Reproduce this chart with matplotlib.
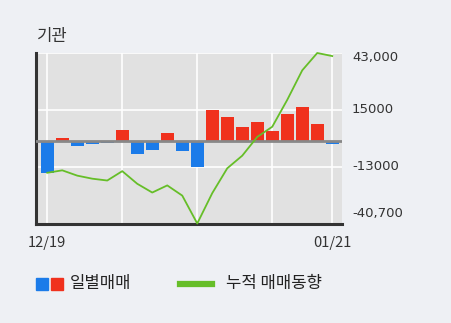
import numpy as np
import matplotlib
matplotlib.use("Agg")
import matplotlib.pyplot as plt
from matplotlib.patches import Rectangle
from matplotlib.lines import Line2D

plt.rcParams['font.family'] = ['Noto Sans CJK KR', 'DejaVu Sans']

# ---- data ----
dates = ["12/19", "", "", "", "", "", "", "", "", "", "", "", "", "", "", "", "", "", "", "01/21"]
daily = [-15800, 1300, -2500, -1500, -1000, 5200, -6400, -4500, 3700, -5000,
         -12800, 15200, 11800, 6800, 9300, 4700, 13200, 16700, 8200, -1500]
cumulative = [-15800, -14600, -17200, -18700, -19600, -15000, -21200, -25500, -22000, -27000,
              -40700, -25800, -13600, -7400, 1800, 6800, 20000, 34500, 43000, 41500]
y_ticks = [43000, 15100, -12800, -40700]
y_tick_labels = ["43,000", "15000", "-13000", "-40,700"]
title = "기관"
legend_bar = "일별매매"
legend_line = "누적 매매동향"

BG = "#eef0f4"
PLOT_BG = "#e1e1e1"
BLUE = "#1b7be9"
RED = "#f0311d"
GREEN = "#66be28"

W, H = 451, 323
fig = plt.figure(figsize=(W / 100, H / 100), dpi=100)
fig.patch.set_facecolor(BG)

left, right, top, bottom = 36, 342, 53, 223.5
ax = fig.add_axes([left / W, 1 - bottom / H, (right - left) / W, (bottom - top) / H])
ax.set_facecolor(PLOT_BG)

x = np.arange(len(daily))
ax.set_xlim(-0.75, len(daily) - 1 + 0.65)
ax.set_ylim(min(y_ticks), max(y_ticks))

# grid
for yt in y_ticks:
    ax.axhline(yt, color="white", lw=1.2, zorder=1)
for xi in [0, 5, 10, 15, 19]:
    ax.axvline(xi, color="white", lw=1.2, zorder=1)

colors = [RED if v > 0 else BLUE for v in daily]
ax.bar(x, daily, width=0.85, color=colors, zorder=2)
ax.axhline(0, color="#888888", lw=2, zorder=3)
ax.plot(x, cumulative, color=GREEN, lw=1.3, zorder=4, clip_on=False)

for s in ["top", "right"]:
    ax.spines[s].set_visible(False)
for s in ["left", "bottom"]:
    ax.spines[s].set_color("#333333")
    ax.spines[s].set_linewidth(2.2)

# right-hand value labels (pixel placement like the reference)
ax.set_yticks([])
label_y_px = [58, 110, 166, 214]
for lbl, ypx in zip(y_tick_labels, label_y_px):
    fig.text(352 / W, 1 - ypx / H, lbl, fontsize=9.5, color="#333333",
             va="center", ha="left", family="DejaVu Sans")

ax.set_xticks([0, 19])
ax.set_xticklabels([dates[0], dates[19]])
ax.tick_params(axis="x", length=0, pad=9, labelsize=10.5, labelcolor="#333333")
ax.get_xticklabels()[0].set_x(0.25)

# title
fig.text(37 / W, 1 - 36 / H, title, fontsize=12, color="#333333", va="center", ha="left")

# legend
fig.patches.append(Rectangle((36 / W, 1 - 289.5 / H), 11.5 / W, 11.5 / H,
                             transform=fig.transFigure, color=BLUE, figure=fig))
fig.patches.append(Rectangle((51 / W, 1 - 289.5 / H), 11.5 / W, 11.5 / H,
                             transform=fig.transFigure, color=RED, figure=fig))
fig.text(70 / W, 1 - 283.5 / H, legend_bar, fontsize=12, color="#222222", va="center", ha="left")
fig.lines.append(Line2D([180 / W, 212 / W], [1 - 283.5 / H, 1 - 283.5 / H],
                        transform=fig.transFigure, color=GREEN, lw=4.5, figure=fig))
fig.text(225.5 / W, 1 - 283.5 / H, legend_line, fontsize=12, color="#222222", va="center", ha="left")

fig.savefig("out.png", dpi=100, facecolor=BG)
